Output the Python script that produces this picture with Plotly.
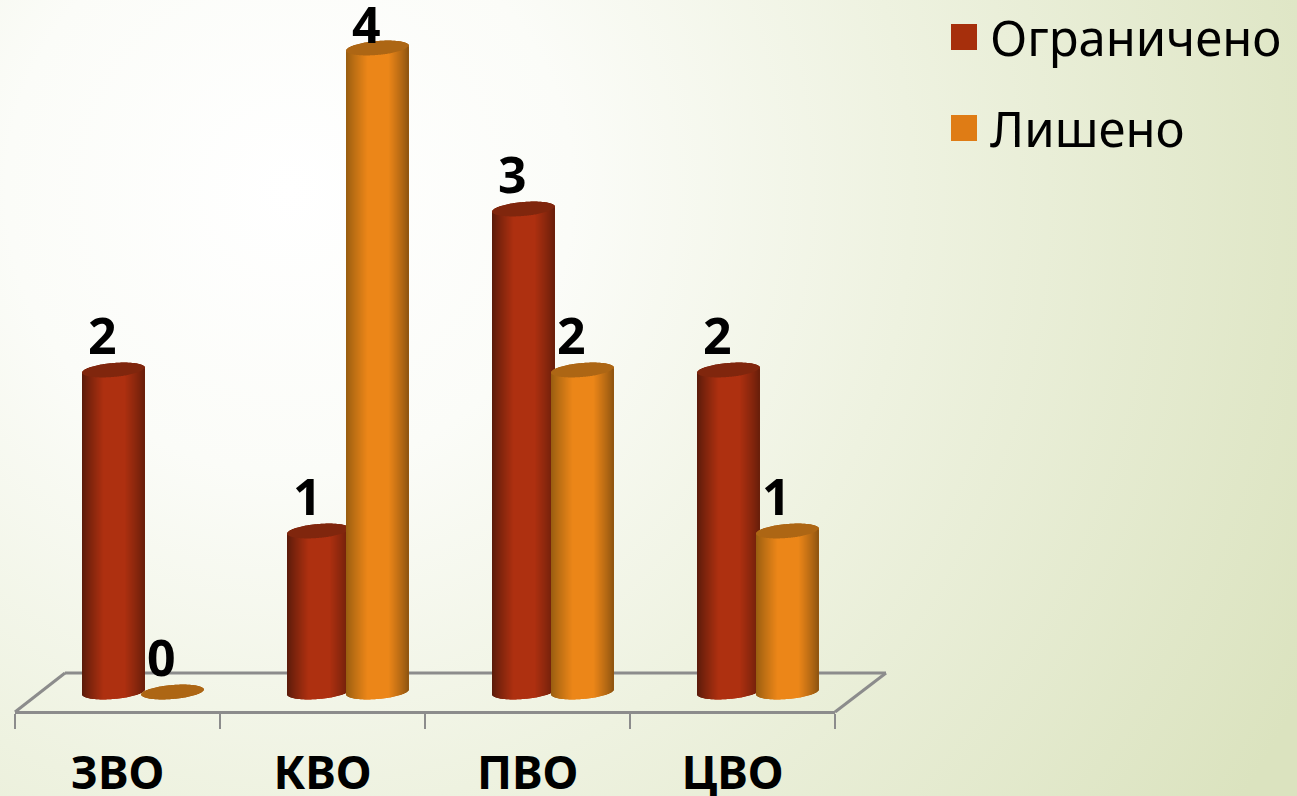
import base64
import math
import plotly.graph_objects as go

categories = ["ЗВО", "КВО", "ПВО", "ЦВО"]
series_names = ["Ограничено", "Лишено"]
limited = [2, 1, 3, 2]
deprived = [0, 4, 2, 1]

W, H = 1297, 796
PX_PER_UNIT = 161.0
Y0_PX = 692.0
Y_MIN, Y_MAX = -0.2, 4.2
GROUP_PX = 205.0
BAR_W_PX = 62.0
STRIPS = 62
HALF_ELL = 7.0 / PX_PER_UNIT
TILT = 2.5 / PX_PER_UNIT
FONT = "Noto Sans"

STYLES = [
    dict(values=limited, off=-29.0, edge_l=(88, 26, 10), edge_r=(104, 30, 10), mid=(174, 48, 16), cap="#80260d", key="#a62f0c"),
    dict(values=deprived, off=30.0, edge_l=(150, 92, 16), edge_r=(142, 84, 16), mid=(236, 134, 24), cap="#ad6614", key="#df7c15"),
]


def px(x):
    return x / W


def py(y):
    return 1 - y / H


def shade(st, t):
    # t in [-1, 1]; horizontal shading of a cylinder
    peak = 0.05
    if t < peak:
        k = (t + 1) / (peak + 1)
        edge = st["edge_l"]
    else:
        k = (1 - t) / (1 - peak)
        edge = st["edge_r"]
    k = min(1, k * 1.5) ** 0.85
    c = [round(edge[i] + (st["mid"][i] - edge[i]) * k) for i in range(3)]
    return f"rgb({c[0]},{c[1]},{c[2]})"


fig = go.Figure()

# invisible trace that carries the category axis
fig.add_trace(go.Scatter(x=categories, y=[None] * 4, xaxis="x", yaxis="y", mode="markers", showlegend=False, hoverinfo="skip"))

for s, st in enumerate(STYLES):
    for j in range(STRIPS):
        t = (j + 0.5) / STRIPS * 2 - 1
        h = HALF_ELL * math.sqrt(1 - t * t)
        tilt = TILT * t
        off = (st["off"] - BAR_W_PX / 2 + j * BAR_W_PX / STRIPS) / GROUP_PX
        wid = BAR_W_PX / STRIPS / GROUP_PX
        xs = list(range(4)) * 2
        body_base = [tilt - h] * 4
        body_h = [v + h if v > 0 else 0 for v in st["values"]]
        cap_base = [v + tilt - h for v in st["values"]]
        cap_h = [2 * h] * 4
        fig.add_trace(go.Bar(
            x=xs, y=body_h + cap_h, base=body_base + cap_base,
            offset=off, width=wid,
            marker=dict(color=[shade(st, t)] * 4 + [st["cap"]] * 4, line=dict(width=0)),
            xaxis="x2", yaxis="y", showlegend=False, hoverinfo="skip", cliponaxis=False,
        ))

annotations = []
for s, st in enumerate(STYLES):
    for i, v in enumerate(st["values"]):
        annotations.append(dict(
            x=i, y=v, xref="x2", yref="y", text=str(v), showarrow=False,
            xshift=st["off"] - 11, yshift=24 if v == 4 else 35, yanchor="middle", xanchor="center",
            font=dict(family=FONT, size=50, color="#000000", weight="bold"),
        ))

legend_y = [37, 128]
for name, st, y in zip(series_names, STYLES, legend_y):
    annotations.append(dict(
        x=px(988), y=py(y), xref="paper", yref="paper", text=name, showarrow=False,
        xanchor="left", yanchor="middle",
        font=dict(family=FONT, size=49, color="#000000"),
    ))

shapes = [
    # back and side edges of the chart floor
    dict(type="line", xref="paper", yref="paper", x0=px(15), y0=py(712), x1=px(65), y1=py(673), line=dict(color="#8c8c8c", width=3), layer="below"),
    dict(type="line", xref="paper", yref="paper", x0=px(65), y0=py(673), x1=px(886), y1=py(673), line=dict(color="#8c8c8c", width=3), layer="below"),
    dict(type="line", xref="paper", yref="paper", x0=px(886), y0=py(673), x1=px(835), y1=py(712), line=dict(color="#8c8c8c", width=3), layer="below"),
]
for st, y in zip(STYLES, legend_y):
    shapes.append(dict(type="rect", xref="paper", yref="paper", x0=px(951), x1=px(977), y0=py(y - 13), y1=py(y + 13),
                       fillcolor=st["key"], line=dict(width=0)))

svg = f"""<svg xmlns="http://www.w3.org/2000/svg" width="{W}" height="{H}" viewBox="0 0 {W} {H}">
<defs><radialGradient id="g" gradientUnits="userSpaceOnUse" cx="290" cy="190" r="1130">
<stop offset="0" stop-color="#ffffff"/><stop offset="0.25" stop-color="#fbfcf8"/>
<stop offset="0.55" stop-color="#eef2e0"/><stop offset="1" stop-color="#dbe3bf"/>
</radialGradient></defs><rect width="{W}" height="{H}" fill="url(#g)"/></svg>"""
bg_uri = "data:image/svg+xml;base64," + base64.b64encode(svg.encode()).decode()

fig.update_layout(
    width=W, height=H,
    margin=dict(l=0, r=0, t=0, b=0, autoexpand=False),
    paper_bgcolor="rgba(0,0,0,0)", plot_bgcolor="rgba(0,0,0,0)",
    barmode="overlay", showlegend=False,
    images=[dict(source=bg_uri, xref="paper", yref="paper", x=0, y=1, sizex=1, sizey=1,
                 sizing="stretch", xanchor="left", yanchor="top", layer="below")],
    shapes=shapes, annotations=annotations,
    xaxis=dict(
        domain=[px(15), px(835)], type="category", categoryorder="array", categoryarray=categories,
        range=[-0.5, 3.5], anchor="free", position=py(712), side="bottom",
        showline=True, linecolor="#8c8c8c", linewidth=3, showgrid=False, zeroline=False,
        ticks="outside", tickson="boundaries", ticklen=15, tickwidth=2, tickcolor="#8c8c8c",
        tickfont=dict(family=FONT, size=46, color="#000000", weight="bold"), ticklabelstandoff=20,
    ),
    xaxis2=dict(domain=[px(40), px(860)], range=[-0.5, 3.5], visible=False, anchor="y"),
    yaxis=dict(
        domain=[py(Y0_PX - Y_MIN * PX_PER_UNIT), py(Y0_PX - Y_MAX * PX_PER_UNIT)],
        range=[Y_MIN, Y_MAX], visible=False, anchor="x2",
    ),
)

fig.write_html("out.html", config=dict(displayModeBar=False),
               post_script="document.body.style.margin='0';document.body.style.overflow='hidden';")
